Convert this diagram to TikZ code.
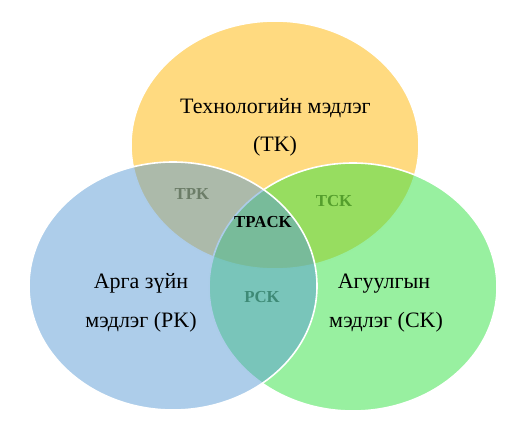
\documentclass[tikz,border=0pt]{standalone}
\usepackage{fontspec}
\setmainfont{Liberation Serif}
\usetikzlibrary{shapes.geometric}
\definecolor{techY}{RGB}{255,218,128}
\definecolor{pedB}{RGB}{91,155,213}
\definecolor{conG}{RGB}{49,225,65}
\definecolor{tpkC}{RGB}{108,125,104}
\definecolor{tckC}{RGB}{84,158,44}
\definecolor{pckC}{RGB}{62,138,118}
\tikzset{
  venn/.style={ellipse, draw=white, line width=1.6pt, minimum width=288pt, minimum height=248pt, inner sep=0pt},
  bigtxt/.style={anchor=base, inner sep=0pt, font=\fontsize{22}{26}\selectfont},
  smalltxt/.style={anchor=base, inner sep=0pt, font=\fontsize{16.8}{19}\selectfont\bfseries}
}
\begin{document}
\begin{tikzpicture}[x=1pt,y=-1pt]
\useasboundingbox (0,0) rectangle (528,424);
\node[venn, fill=techY] (T) at (275,145) {};
\node[venn, fill=conG, fill opacity=0.5] (C) at (353,287) {};
\node[venn, fill=pedB, fill opacity=0.5] (P) at (173,286) {};
\node[bigtxt] (t1) at (275.5,113) {Технологийн мэдлэг};
\node[bigtxt] (t2) at (275,151) {(TK)};
\node[bigtxt] (p1) at (141,288) {Арга зүйн};
\node[bigtxt] (p2) at (141,327) {мэдлэг (PK)};
\node[bigtxt] (c1) at (384,288) {Агуулгын};
\node[bigtxt] (c2) at (386,327) {мэдлэг (CK)};
\node[smalltxt, text=tpkC] (tpk) at (192,199) {TPK};
\node[smalltxt, text=tckC] (tck) at (334,206) {TCK};
\node[smalltxt, text=pckC] (pck) at (262,302) {PCK};
\node[smalltxt, text=black] (tpack) at (263,227) {TPACK};
\end{tikzpicture}
\end{document}
